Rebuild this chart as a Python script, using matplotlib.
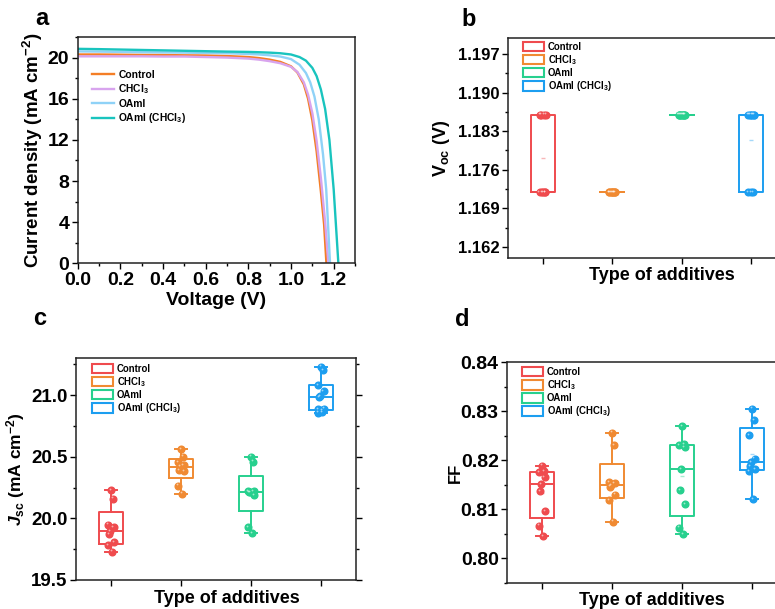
import matplotlib
matplotlib.use('Agg')
import matplotlib.pyplot as plt
import matplotlib.transforms as mtransforms
import numpy as np
from matplotlib.patches import Patch
from matplotlib.ticker import MultipleLocator, FixedLocator, FormatStrFormatter

plt.rcParams['font.family'] = ['Liberation Sans', 'DejaVu Sans']
plt.rcParams['font.weight'] = 'bold'
plt.rcParams['mathtext.fontset'] = 'custom'
plt.rcParams['mathtext.rm'] = 'Liberation Sans:bold'
plt.rcParams['mathtext.it'] = 'Liberation Sans:bold:italic'
plt.rcParams['mathtext.bf'] = 'Liberation Sans:bold'
plt.rcParams['axes.linewidth'] = 1.1

# ---- data ----
labels = ['Control', 'CHCl$_3$', 'OAmI', 'OAmI (CHCl$_3$)']

# J-V curves (panel a)
v_ctrl = [0, .1, .2, .3, .4, .5, .6, .7, .8, .85, .9, .95, 1.0, 1.03, 1.06, 1.08, 1.1, 1.12, 1.14, 1.155, 1.166]
j_ctrl = [20.3, 20.3, 20.28, 20.26, 20.25, 20.22, 20.2, 20.15, 20.05, 19.95, 19.8, 19.58, 19.15, 18.55, 17.4, 16.0, 13.9, 10.9, 7.0, 3.8, 0]
v_chcl = [0, .1, .2, .3, .4, .5, .6, .7, .8, .85, .9, .95, 1.0, 1.03, 1.06, 1.08, 1.1, 1.12, 1.14, 1.16, 1.175]
j_chcl = [20.12, 20.12, 20.12, 20.12, 20.1, 20.1, 20.05, 20.0, 19.9, 19.8, 19.65, 19.45, 19.1, 18.6, 17.6, 16.4, 14.6, 11.9, 8.3, 4.0, 0]
v_oami = [0, .1, .2, .3, .4, .5, .6, .7, .8, .85, .9, .95, 1.0, 1.04, 1.07, 1.09, 1.11, 1.13, 1.15, 1.165, 1.183]
j_oami = [20.6, 20.58, 20.55, 20.52, 20.5, 20.48, 20.45, 20.42, 20.35, 20.3, 20.22, 20.1, 19.85, 19.3, 18.5, 17.6, 16.2, 14.0, 10.6, 7.2, 0]
v_oc3 = [0, .1, .2, .3, .4, .5, .6, .7, .8, .85, .9, .95, 1.0, 1.04, 1.07, 1.1, 1.12, 1.14, 1.16, 1.18, 1.2, 1.222]
j_oc3 = [20.85, 20.82, 20.78, 20.74, 20.7, 20.66, 20.62, 20.58, 20.55, 20.52, 20.48, 20.42, 20.3, 20.05, 19.7, 19.0, 18.2, 16.9, 15.0, 12.0, 7.2, 0]

# Voc (V)
voc_ctrl = [1.172, 1.172, 1.172, 1.172, 1.172, 1.186, 1.186, 1.186, 1.186]
voc_chcl = [1.172, 1.172, 1.172, 1.172, 1.172, 1.172, 1.172, 1.172, 1.172]
voc_oami = [1.186, 1.186, 1.186, 1.186, 1.186, 1.186, 1.186, 1.186, 1.186]
voc_oc3 = [1.172, 1.172, 1.172, 1.186, 1.186, 1.186, 1.186, 1.186, 1.186]

# Jsc (mA cm-2)
jsc_ctrl = [20.23, 20.16, 19.95, 19.93, 19.895, 19.87, 19.81, 19.78, 19.73]
jsc_chcl = [20.56, 20.50, 20.455, 20.43, 20.42, 20.39, 20.385, 20.265, 20.20]
jsc_oami = [20.50, 20.46, 20.22, 20.22, 20.215, 20.21, 20.19, 19.93, 19.88]
jsc_oc3 = [21.23, 21.20, 21.08, 21.03, 20.99, 20.98, 20.89, 20.885, 20.875, 20.862, 20.857]

# FF
ff_ctrl = [0.8189, 0.8178, 0.8176, 0.8166, 0.8152, 0.8137, 0.8097, 0.8067, 0.8045]
ff_chcl = [0.8256, 0.8230, 0.8156, 0.8153, 0.8150, 0.8146, 0.8130, 0.8118, 0.8075]
ff_oami = [0.8270, 0.8233, 0.8230, 0.8227, 0.8182, 0.8139, 0.8110, 0.8063, 0.8049]
ff_oc3 = [0.8305, 0.8281, 0.8251, 0.8203, 0.8196, 0.8188, 0.8182, 0.8178, 0.8121]

jv_colors = ['#F47E26', '#D8A4EE', '#8FD2F7', '#19C4BE']
box_colors = ['#EF4B4E', '#F08A32', '#27D08E', '#1C9EF0']

fig = plt.figure(figsize=(7.75, 6.09), dpi=100)
W, H = 775, 609


def add_axes(l, t, r, b):
    return fig.add_axes([l / W, 1 - b / H, (r - l) / W, (b - t) / H])


def style(ax, tick_size):
    for s in ax.spines.values():
        s.set_color('#222222')
    ax.tick_params(which='major', direction='out', length=4, width=1, labelsize=tick_size, pad=2)
    ax.tick_params(which='minor', direction='out', length=2.5, width=1)
    for lab in ax.get_xticklabels() + ax.get_yticklabels():
        lab.set_fontweight('bold')


def box_panel(ax, sets):
    shine = mtransforms.offset_copy(ax.transData, fig=fig, x=-0.9, y=0.9, units='points')
    for i, (vals, c) in enumerate(zip(sets, box_colors)):
        v = np.array(vals)
        q1, med, q3 = np.percentile(v, [25, 50, 75], method='weibull')
        st = [dict(med=med, q1=q1, q3=q3, whislo=v.min(), whishi=v.max(), mean=v.mean(), fliers=[])]
        lp = dict(color=c, lw=1.4)
        ax.bxp(st, positions=[i + 1], widths=0.34, capwidths=0.17, showmeans=True,
               boxprops=lp, whiskerprops=lp, capprops=lp, medianprops=lp,
               meanprops=dict(marker='_', markeredgecolor=c, markersize=3, alpha=0.4),
               manage_ticks=False)
        offs = 0.045 * np.sin(np.arange(len(v)) * 2.4)
        ax.plot(i + 1 + offs, v, 'o', color=c, ms=4.8, mec=c, zorder=3)
        ax.plot(i + 1 + offs, v, 'o', color='white', ms=1.3, mew=0, alpha=0.55,
                zorder=4, transform=shine)
    ax.set_xlim(0.5, 4.5)
    ax.set_xticks([1, 2, 3, 4])
    ax.set_xticklabels([])
    handles = [Patch(facecolor='white', edgecolor=c, lw=1.5, label=l) for c, l in zip(box_colors, labels)]
    return handles


# ---- panel a ----
ax = add_axes(77.7, 37, 355, 263.3)
for v, j, c, l in zip([v_ctrl, v_chcl, v_oami, v_oc3], [j_ctrl, j_chcl, j_oami, j_oc3], jv_colors, labels):
    ax.plot(v, j, color=c, lw=1.7, label=l)
ax.set_xlim(0, 1.3)
ax.set_ylim(0, 22)
ax.set_xticks(np.arange(0, 1.21, 0.2))
ax.xaxis.set_minor_locator(MultipleLocator(0.1))
ax.set_yticks(np.arange(0, 21, 4))
ax.yaxis.set_minor_locator(MultipleLocator(2))
ax.xaxis.set_major_formatter(FormatStrFormatter('%.1f'))
style(ax, 14)
ax.set_xlabel('Voltage (V)', fontsize=14, fontweight='bold')
ax.xaxis.set_label_coords(0.5, -0.125)
ax.set_ylabel('Current density (mA cm$^{-2}$)', fontsize=13.5, fontweight='bold')
ax.yaxis.set_label_coords(-0.118, 0.5)
ax.legend(loc='upper left', bbox_to_anchor=(0.05, 0.855), frameon=False,
          handlelength=2.2, handletextpad=0.4, labelspacing=0.25, borderpad=0, borderaxespad=0,
          prop=dict(weight='bold', size=7.4))

# ---- panel b ----
ax = add_axes(508, 38, 786, 258)
h = box_panel(ax, [voc_ctrl, voc_chcl, voc_oami, voc_oc3])
ax.set_ylim(1.160, 1.1999)
ax.set_yticks([1.162, 1.169, 1.176, 1.183, 1.190, 1.197])
ax.yaxis.set_minor_locator(FixedLocator(np.arange(1.1585, 1.2, 0.007)))
ax.yaxis.set_major_formatter(FormatStrFormatter('%.3f'))
style(ax, 12)
ax.set_xlabel('Type of additives', fontsize=13, fontweight='bold')
ax.xaxis.set_label_coords(0.554, -0.04)
ax.set_ylabel(r'$\mathrm{V_{oc}}$ (V)', fontsize=13, fontweight='bold')
ax.yaxis.set_label_coords(-0.2, 0.5)
ax.legend(handles=h, loc='upper left', bbox_to_anchor=(0.054, 0.982), frameon=False,
          handlelength=2.2, handleheight=1.1, handletextpad=0.4, labelspacing=0.12,
          borderpad=0, borderaxespad=0, prop=dict(weight='bold', size=6.9))

# ---- panel c ----
ax = add_axes(76, 358, 356, 580)
h = box_panel(ax, [jsc_ctrl, jsc_chcl, jsc_oami, jsc_oc3])
ax.set_ylim(19.5, 21.3)
ax.set_yticks([19.5, 20.0, 20.5, 21.0])
ax.yaxis.set_minor_locator(MultipleLocator(0.25))
ax.yaxis.set_major_formatter(FormatStrFormatter('%.1f'))
style(ax, 13.5)
ax.tick_params(axis='y', which='both', right=True, direction='out')
ax.set_xlabel('Type of additives', fontsize=13, fontweight='bold')
ax.xaxis.set_label_coords(0.5375, -0.045)
ax.set_ylabel(r'$\mathit{J}_{\mathrm{sc}}$ (mA cm$^{-2}$)', fontsize=12.5, fontweight='bold')
ax.yaxis.set_label_coords(-0.175, 0.5)
ax.legend(handles=h, loc='upper left', bbox_to_anchor=(0.057, 0.973), frameon=False,
          handlelength=2.2, handleheight=1.1, handletextpad=0.4, labelspacing=0.12,
          borderpad=0, borderaxespad=0, prop=dict(weight='bold', size=6.9))

# ---- panel d ----
ax = add_axes(507, 362, 787, 583)
h = box_panel(ax, [ff_ctrl, ff_chcl, ff_oami, ff_oc3])
ax.set_ylim(0.795, 0.84)
ax.set_yticks([0.80, 0.81, 0.82, 0.83, 0.84])
ax.yaxis.set_minor_locator(MultipleLocator(0.005))
ax.yaxis.set_major_formatter(FormatStrFormatter('%.2f'))
style(ax, 14)
ax.set_xlabel('Type of additives', fontsize=13, fontweight='bold')
ax.xaxis.set_label_coords(0.517, -0.039)
ax.set_ylabel('FF', fontsize=12, fontweight='bold')
ax.yaxis.set_label_coords(-0.157, 0.5)
ax.legend(handles=h, loc='upper left', bbox_to_anchor=(0.054, 0.977), frameon=False,
          handlelength=2.2, handleheight=1.1, handletextpad=0.4, labelspacing=0.12,
          borderpad=0, borderaxespad=0, prop=dict(weight='bold', size=6.9))

# panel letters
for x, y, t in [(35, 25, 'a'), (461, 26, 'b'), (33, 325, 'c'), (455, 326, 'd')]:
    fig.text(x / W, 1 - y / H, t, fontsize=17, fontweight='bold', va='baseline')

fig.savefig('out.png', dpi=100)
